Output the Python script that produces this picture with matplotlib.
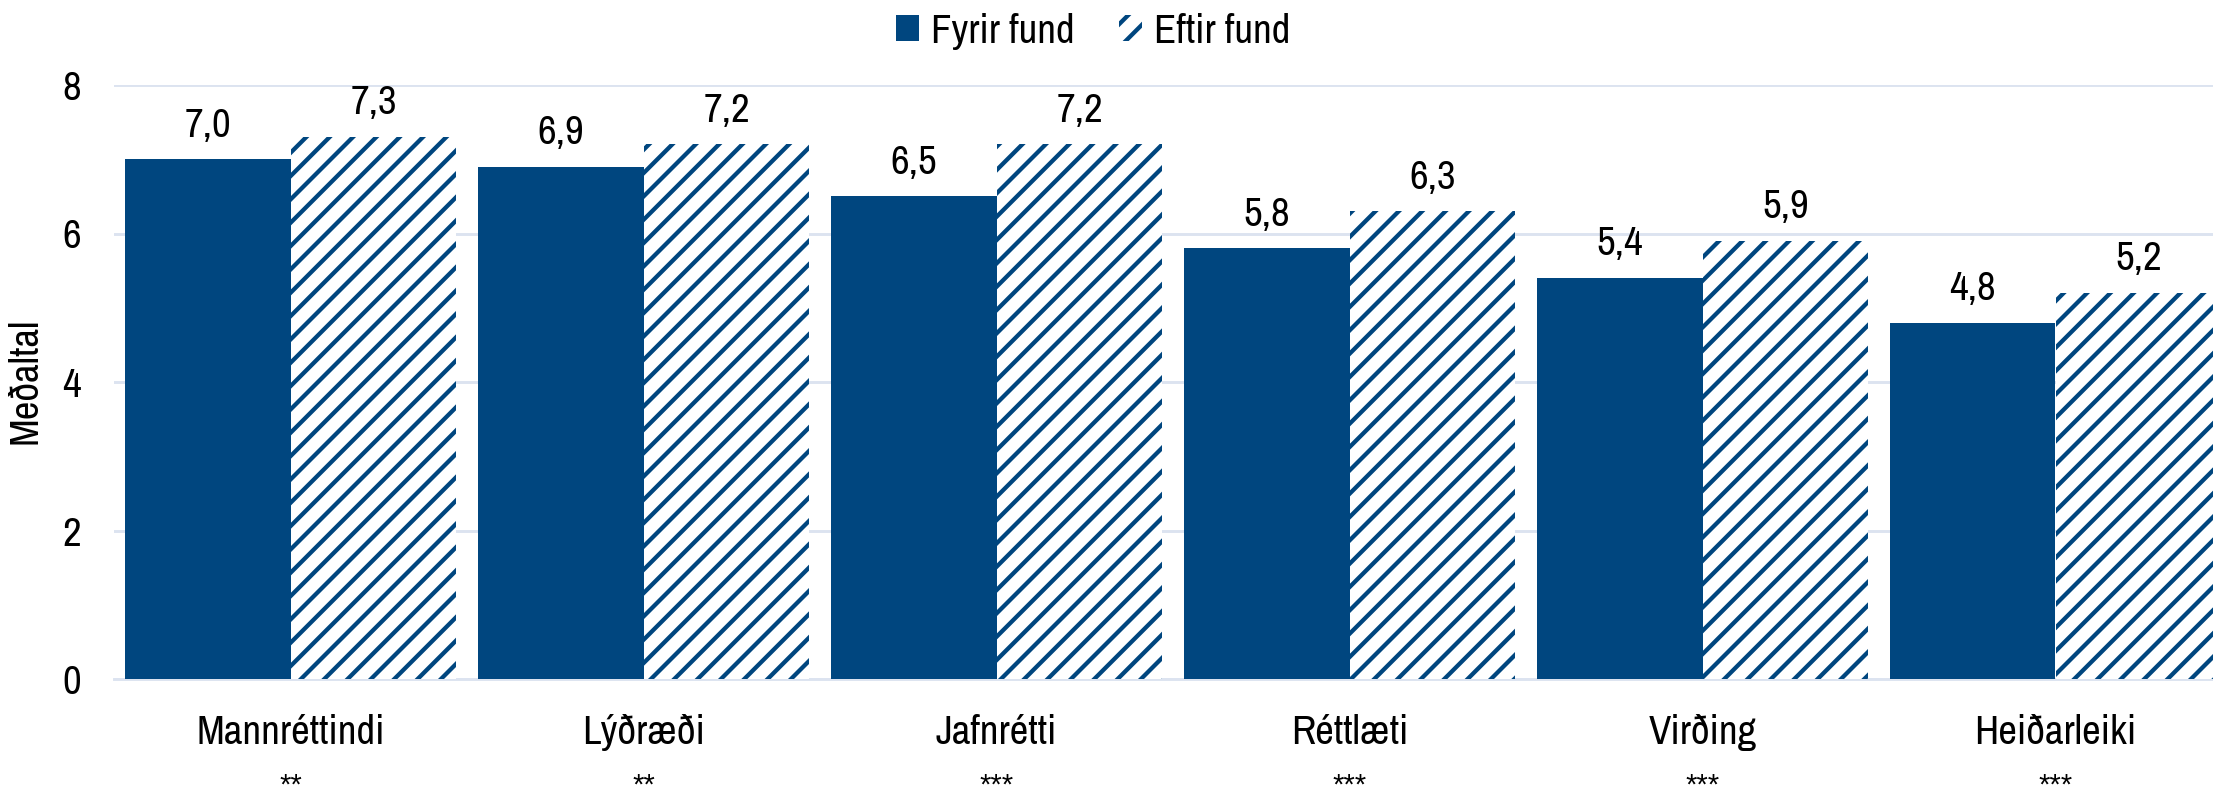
import matplotlib
matplotlib.use("Agg")
import numpy as np
import matplotlib.pyplot as plt
from matplotlib.patches import Patch
from matplotlib.transforms import blended_transform_factory

# Gildi
flokkar = ["Mannréttindi", "Lýðræði", "Jafnrétti", "Réttlæti", "Virðing", "Heiðarleiki"]
fyrir = [7.0, 6.9, 6.5, 5.8, 5.4, 4.8]
eftir = [7.3, 7.2, 7.2, 6.3, 5.9, 5.2]
marktekt = ["**", "**", "***", "***", "***", "***"]

blar = "#00467F"
grind = "#DCE3F0"

plt.rcParams["font.family"] = ["Archivo Narrow", "Liberation Sans", "DejaVu Sans"]
plt.rcParams["hatch.linewidth"] = 2.2

dpi = 140
fig = plt.figure(figsize=(2213 / dpi, 800 / dpi), dpi=dpi)
ax = fig.add_axes([114 / 2213, 121 / 800, 2118 / 2213, 594 / 800])

x = np.arange(len(flokkar))
b = 0.47
s1 = ax.bar(x - b / 2, fyrir, width=b, color=blar, linewidth=0, zorder=3)
s2 = ax.bar(x + b / 2, eftir, width=b, facecolor="white", edgecolor=blar,
            hatch="//", linewidth=0, zorder=3)

for stolpar, gildi in ((s1, fyrir), (s2, eftir)):
    for st, v in zip(stolpar, gildi):
        ax.annotate(f"{v:.1f}".replace(".", ","),
                    (st.get_x() + st.get_width() / 2, v),
                    xytext=(0, 8), textcoords="offset points",
                    ha="center", va="bottom", fontsize=21)

ax.set_xlim(-0.5, len(flokkar) - 0.5)
ax.set_ylim(0, 8)
ax.set_yticks([0, 2, 4, 6, 8])
ax.yaxis.grid(True, color=grind, linewidth=1.5, zorder=0)
ax.set_axisbelow(True)
for sp in ("top", "right", "left"):
    ax.spines[sp].set_visible(False)
ax.spines["bottom"].set_color(grind)
ax.spines["bottom"].set_linewidth(1.5)
ax.tick_params(axis="both", length=0, labelsize=21)
ax.tick_params(axis="y", pad=17)
ax.tick_params(axis="x", pad=18)
ax.set_xticks(x)
ax.set_xticklabels(flokkar)

# stjörnur fyrir marktækni neðst undir hverjum flokki
trans = blended_transform_factory(ax.transData, fig.transFigure)
for xi, m in zip(x, marktekt):
    ax.text(xi, 0.5 / 800, m, transform=trans, ha="center", va="bottom",
            fontsize=15, family="Liberation Sans")

fig.text(25 / 2213, 0.524, "Meðaltal", rotation=90, ha="center", va="center", fontsize=21)

handles = [Patch(facecolor=blar, linewidth=0),
           Patch(facecolor="white", edgecolor=blar, hatch="//", linewidth=0)]
fig.legend(handles, ["Fyrir fund", "Eftir fund"], loc="upper center",
           bbox_to_anchor=(0.494, 1.03), ncol=2, frameon=False, fontsize=21,
           handlelength=0.55, handleheight=0.6, handletextpad=0.3, columnspacing=1.1)

fig.savefig("out.png", dpi=dpi)
